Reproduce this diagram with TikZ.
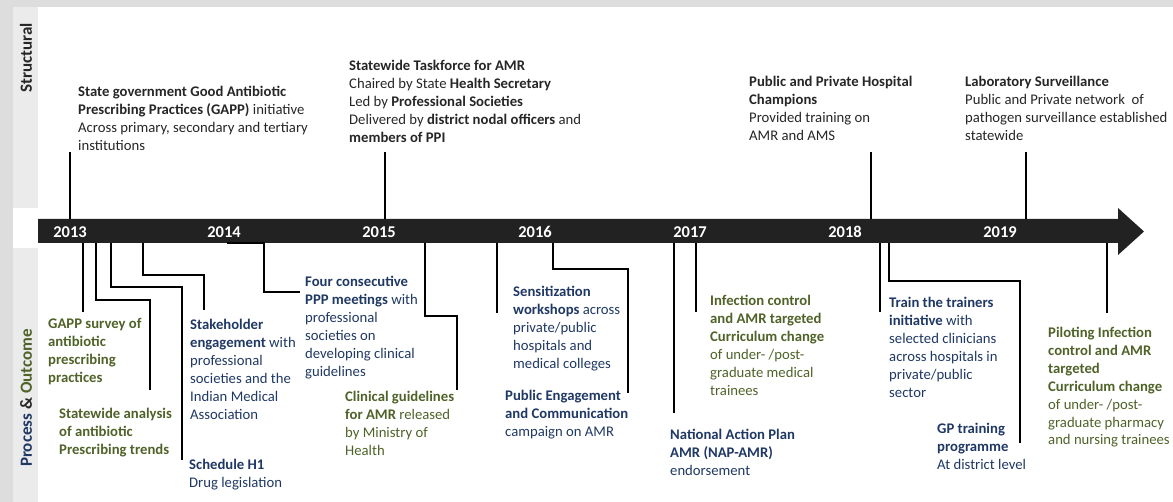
\documentclass[tikz,border=0pt]{standalone}
\usepackage{fontspec}
\setmainfont{Carlito}
\definecolor{amrnavy}{HTML}{1F3864}
\definecolor{amrgreen}{HTML}{4F6228}
\definecolor{amrink}{HTML}{262626}
\definecolor{amrbar}{HTML}{222222}
\definecolor{panelgray}{HTML}{EBEBEB}
\definecolor{framegray}{HTML}{DDDDDD}
\newcommand\bodyfont{\fontsize{14.7}{17.9}\selectfont}

\begin{document}
\begin{tikzpicture}[
x=1pt,y=-1pt,
lbl/.style={anchor=north west,align=left,inner sep=0pt,font=\bodyfont,
execute at begin node=\strut},
navy/.style={lbl,text=amrnavy},
olive/.style={lbl,text=amrgreen},
struct/.style={lbl,text=amrink},
yr/.style={text=white,font=\fontsize{16.5}{18}\selectfont\bfseries},
side/.style={rotate=90,font=\fontsize{17}{19}\selectfont\bfseries},
link/.style={line width=1.7pt,draw=black}
]
\useasboundingbox (0,0) rectangle (1173,502);
% frame and side panels
\fill[framegray] (0,0) rectangle (1173,7);
\fill[framegray] (0,0) rectangle (13,502);
\fill[panelgray] (13,7) rectangle (38,208);
\fill[panelgray] (13,248) rectangle (38,502);
\node[side,text=amrink] (st) at (26,58) {Structural};
\node[side] (po) at (26,398) {\textcolor{amrnavy}{Process}
\textcolor{amrink}{\&} \textcolor{amrgreen}{Outcome}};

% timeline bar
\fill[amrbar] (38,219) -- (1118,219) -- (1118,208) -- (1144,231.5)
-- (1118,255) -- (1118,243) -- (38,243) -- cycle;
\foreach \n/\x in {2013/70,2014/224,2015/379,2016/535,2017/690,2018/845,2019/1000}
\node[yr] (y\n) at (\x,232) {\n};

% structural events
\node[struct] (gapp) at (78,86) {\textbf{State government Good Antibiotic}\\
\textbf{Prescribing Practices (GAPP)} initiative\\
Across primary, secondary and tertiary\\ institutions};
\node[struct] (task) at (349,60) {\textbf{Statewide Taskforce for AMR}\\
Chaired by State \textbf{Health Secretary}\\
Led by \textbf{Professional Societies}\\
Delivered by \textbf{district nodal officers} and\\
\textbf{members of PPI}};
\node[struct] (champ) at (749,76) {\textbf{Public and Private Hospital}\\
\textbf{Champions}\\ Provided training on\\ AMR and AMS};
\node[struct] (lab) at (965,76) {\textbf{Laboratory Surveillance}\\
Public and Private network\ \ of\\
pathogen surveillance established\\ statewide};

\foreach \n/\x in {gapp/70,task/385,champ/871,lab/1026} {
\coordinate (u-\n) at (\x,219);
\draw[link] (u-\n) -- ++(0,-67);
}

% process and outcome events
\node[olive,font=\bodyfont\bfseries] (gs) at (48,318) {GAPP survey of\\
antibiotic\\ prescribing\\ practices};
\node[olive,font=\bodyfont\bfseries] (sa) at (59,408) {Statewide analysis\\
of antibiotic\\ Prescribing trends};
\node[navy] (h1) at (189,459) {\textbf{Schedule H1}\\ Drug legislation};
\node[navy] (se) at (190,319) {\textbf{Stakeholder}\\ \textbf{engagement} with\\
professional\\ societies and the\\ Indian Medical\\ Association};
\node[navy] (pm) at (305,276) {\textbf{Four consecutive}\\
\textbf{PPP meetings} with\\ professional\\ societies on\\
developing clinical\\ guidelines};
\node[olive] (cg) at (345,391) {\textbf{Clinical guidelines}\\
\textbf{for AMR} released\\ by Ministry of\\ Health};
\node[navy] (sw) at (513,286) {\textbf{Sensitization}\\ \textbf{workshops} across\\
private/public\\ hospitals and\\ medical colleges};
\node[navy] (pe) at (505,390) {\textbf{Public Engagement}\\
\textbf{and Communication}\\ campaign on AMR};
\node[navy] (nap) at (670,429) {\textbf{National Action Plan}\\
\textbf{AMR (NAP-AMR)}\\ endorsement};
\node[olive] (ic) at (710,295) {\textbf{Infection control}\\
\textbf{and AMR targeted}\\ \textbf{Curriculum change}\\
of under- /post-\\ graduate medical\\ trainees};
\node[navy] (tt) at (889,297) {\textbf{Train the trainers}\\
\textbf{initiative} with\\ selected clinicians\\ across hospitals in\\
private/public\\ sector};
\node[navy] (gp) at (937,423) {\textbf{GP training}\\ \textbf{programme}\\
At district level};
\node[olive] (pi) at (1048,327) {\textbf{Piloting Infection}\\
\textbf{control and AMR}\\ \textbf{targeted}\\ \textbf{Curriculum change}\\
of under- /post-\\ graduate pharmacy\\ and nursing trainees};

% where the leaders leave the bar and where they stop
\foreach \n/\x in {gs/83,sa/96,h1/111,se/143,pm/227,cg/425,sw/497,pe/553,
nap/674,ic/696,tt/880,gp/889,pi/1107}
\coordinate (t-\n) at (\x,243);
\foreach \n/\x/\y in {gs/83/312,sa/150/390,h1/182/460,se/204/310,pm/300/292,
cg/457/390,sw/497/313,pe/628/393,nap/674/413,ic/696/312,tt/880/312,
gp/1020/443,pi/1107/313}
\coordinate (e-\n) at (\x,\y);

\foreach \n in {gs,sw,nap,ic,tt,pi}
\draw[link] (t-\n) -- (e-\n);
\foreach \n/\d in {sa/57,h1/44,se/32,cg/73,pe/26,gp/38}
\draw[link] (t-\n) -- ++(0,\d) -| (e-\n);
\draw[link] (t-pm) -| ++(37,49) -- (e-pm);
\end{tikzpicture}
\end{document}
